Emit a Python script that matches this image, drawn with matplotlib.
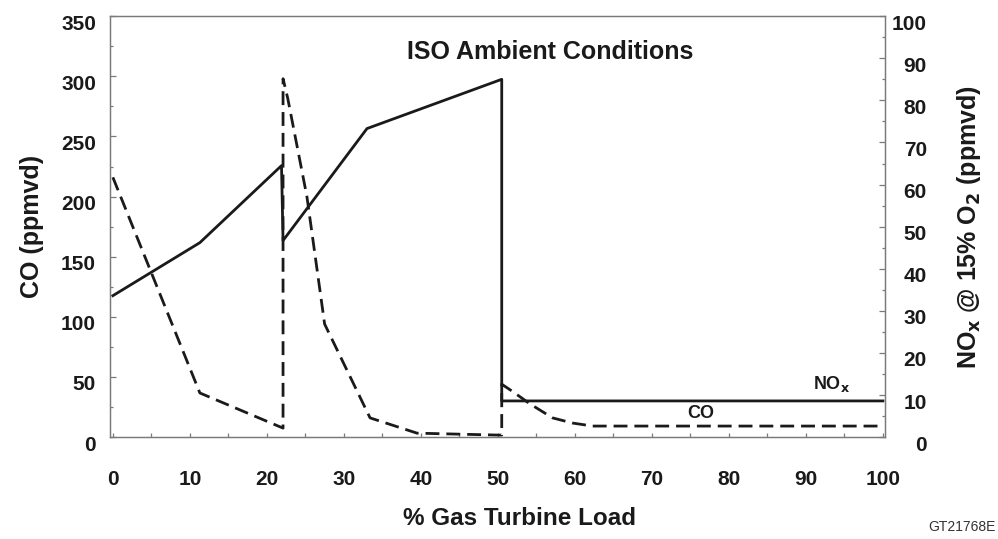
import matplotlib
matplotlib.use("Agg")
import matplotlib.pyplot as plt
import matplotlib.transforms as mtransforms
from matplotlib.ticker import MultipleLocator

# CO (left axis, ppmvd) - dashed
co_load = [0, 11.3, 22.1, 22.1, 22.7, 25.2, 27.5, 33.4, 39.5, 50.0, 50.5, 50.5,
           51.9, 54.2, 57.1, 59.7, 62.3, 100]
co_ppm = [216, 36.7, 7.5, 298, 282, 200, 94, 16, 3.3, 1.7, 1.7, 44,
          38, 27.5, 16, 11.7, 9.2, 9.2]

# NOx (right axis, ppmvd @ 15% O2) - solid
nox_load = [0, 11.3, 21.9, 22.1, 33.0, 50.5, 50.5, 100]
nox_ppm = [33.6, 46.2, 64.5, 46.7, 73.3, 85.0, 8.6, 8.6]

x_ticks = list(range(0, 101, 10))
co_ticks = list(range(0, 351, 50))
nox_ticks = list(range(0, 101, 10))

plt.rcParams["font.family"] = ["Liberation Sans", "DejaVu Sans"]
plt.rcParams["font.weight"] = "bold"
plt.rcParams["axes.labelweight"] = "bold"
plt.rcParams["mathtext.default"] = "bf"

ink = "#1a1a1a"
spine_col = "#7a7a7a"

fig = plt.figure(figsize=(9.98, 5.39), dpi=100)
ax = fig.add_axes([0.110, 0.189, 0.777, 0.781])
ax2 = ax.twinx()

ax.plot(co_load, co_ppm, color=ink, lw=2.0, dashes=(5, 2.5))
ax2.plot(nox_load, nox_ppm, color=ink, lw=2.0)

ax.set_xlim(-0.4, 100.3)
ax.set_ylim(0, 350)
ax2.set_ylim(0, 100)

ax.set_xticks(x_ticks)
ax.xaxis.set_minor_locator(MultipleLocator(5))
ax.set_yticks(co_ticks)
ax.yaxis.set_minor_locator(MultipleLocator(25))
ax2.set_yticks(nox_ticks)
ax2.yaxis.set_minor_locator(MultipleLocator(5))

for a in (ax, ax2):
    for s in a.spines.values():
        s.set_color(spine_col)
        s.set_linewidth(0.9)

ax.tick_params(axis="y", which="major", direction="in", length=4, width=0.9,
               color=spine_col, labelsize=15, pad=10, labelcolor=ink)
ax.tick_params(axis="y", which="minor", direction="in", length=2.2, width=0.9,
               color=spine_col)
ax.tick_params(axis="x", which="both", direction="in", length=3, width=0.9,
               color=spine_col, labelsize=15, pad=24, labelcolor=ink)
ax2.tick_params(axis="y", which="major", direction="in", length=4, width=0.9,
                color=spine_col, labelsize=15, pad=30, labelcolor=ink)
ax2.tick_params(axis="y", which="minor", direction="in", length=2.2, width=0.9,
                color=spine_col)

# the scanned labels sit a little below their ticks
shift = mtransforms.ScaledTranslation(0, -6 / 100, fig.dpi_scale_trans)
for lab in ax.get_yticklabels():
    lab.set_transform(lab.get_transform() + shift)
for lab in ax2.get_yticklabels():
    lab.set_ha("right")
    lab.set_transform(lab.get_transform() + shift)

ax.set_xlabel("% Gas Turbine Load", fontsize=17.5, color=ink)
ax.xaxis.set_label_coords(0.528, -0.166)
ax.set_ylabel("CO (ppmvd)", fontsize=18, color=ink, labelpad=12)
ax2.set_ylabel("NO$_x$ @ 15% O$_2$ (ppmvd)", fontsize=18, color=ink,
               labelpad=20)

ax.text(0.568, 0.915, "ISO Ambient Conditions", transform=ax.transAxes,
        ha="center", va="center", fontsize=18, color=ink)
ax.text(90.9, 44, "NO$_x$", ha="left", va="center", fontsize=13, color=ink)
ax.text(76.4, 20, "CO", ha="center", va="center", fontsize=13, color=ink)

fig.text(0.998, 0.022, "GT21768E", ha="right", va="center", fontsize=10,
         fontweight="normal", color="#333333")

fig.savefig("out.png", dpi=100)
